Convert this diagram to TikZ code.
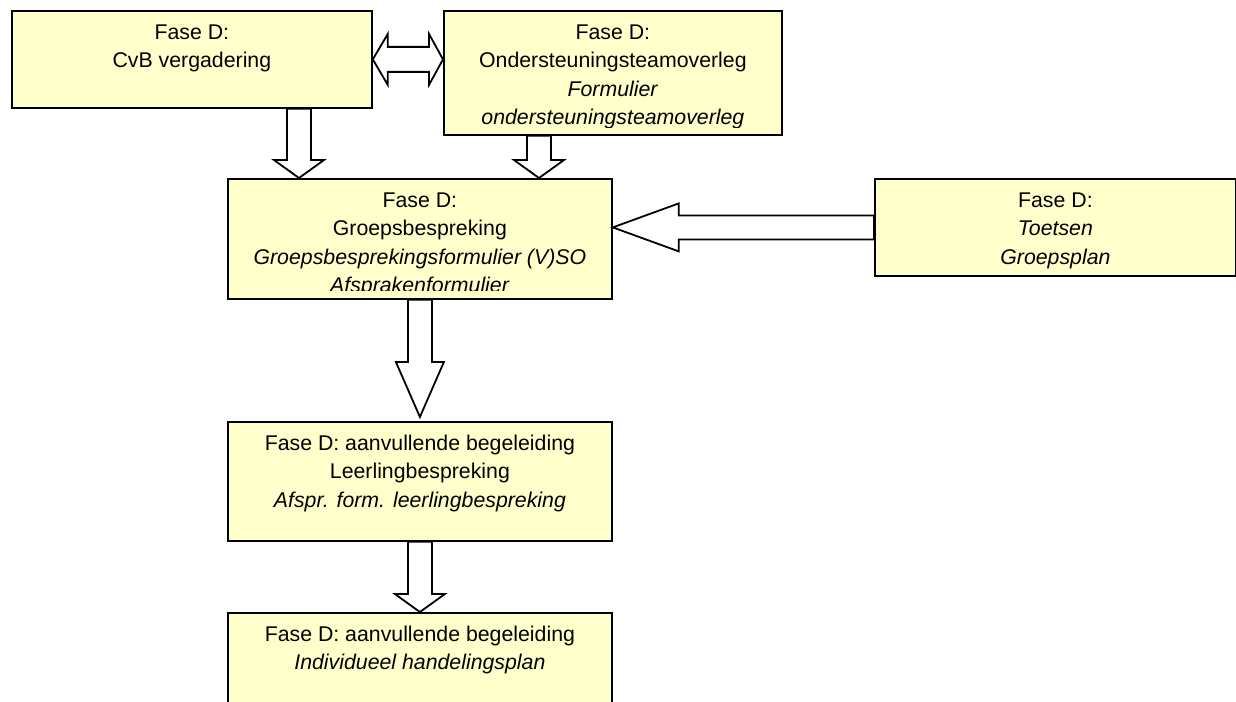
\documentclass[tikz,border=0pt]{standalone}
\usepackage{fontspec}
\setmainfont{Liberation Sans}
\usetikzlibrary{calc}
\definecolor{boxfill}{HTML}{FFFFCC}
\tikzset{
  box/.style={draw=black, fill=boxfill, line width=1.8bp, rectangle, inner sep=0pt, anchor=north west},
  txt/.style={anchor=north, inner sep=0pt, align=center, font=\fontsize{21.3bp}{28.5bp}\selectfont},
  barrow/.style={draw=black, fill=white, line width=1.8bp, line join=miter},
}
% #1 shaft start (centre), #2 tip, #3 shaft half width, #4 head half width, #5 head length
\newcommand{\downblock}[5]{%
  \draw[barrow] ($(#1)+(-#3,0)$) -- ($(#2)+(-#3,-#5)$) -- ($(#2)+(-#4,-#5)$) -- (#2)
    -- ($(#2)+(#4,-#5)$) -- ($(#2)+(#3,-#5)$) -- ($(#1)+(#3,0)$) -- cycle;}
\newcommand{\leftblock}[5]{%
  \draw[barrow] ($(#1)+(0,-#3)$) -- ($(#2)+(#5,-#3)$) -- ($(#2)+(#5,-#4)$) -- (#2)
    -- ($(#2)+(#5,#4)$) -- ($(#2)+(#5,#3)$) -- ($(#1)+(0,#3)$) -- cycle;}
\begin{document}
\begin{tikzpicture}[x=1bp,y=-1bp]
\useasboundingbox (0,0) rectangle (1236,702);
\clip (0,0) rectangle (1236,702);

% boxes
\node[box, minimum width=360bp, minimum height=97bp]  (cvb)   at (11,10)   {};
\node[box, minimum width=338bp, minimum height=124bp] (ost)   at (443,10)  {};
\node[box, minimum width=384bp, minimum height=120bp] (gb)    at (227,178) {};
\node[box, minimum width=361bp, minimum height=97bp]  (toets) at (874,178) {};
\node[box, minimum width=384bp, minimum height=119bp] (lb)    at (227,421) {};
\node[box, minimum width=384bp, minimum height=120bp] (ihp)   at (227,612) {};

% texts
\node[txt] (cvbt) at ($(cvb.north)+(0,9)$) {\strut Fase D:\\ \strut CvB vergadering};
\begin{scope}
  \clip (ost.north west) rectangle ($(ost.south east)+(0,-8)$);
  \node[txt] (ostt) at ($(ost.north)+(0,9)$) {\strut Fase D:\\ \strut Ondersteuningsteamoverleg\\ \strut\textit{Formulier}\\ \strut\textit{ondersteuningsteamoverleg}};
\end{scope}
\begin{scope}
  \clip (gb.north west) rectangle ($(gb.south east)+(0,-9)$);
  \node[txt] (gbt) at ($(gb.north)+(0,9)$) {\strut Fase D:\\ \strut Groepsbespreking\\ \strut\textit{Groepsbesprekingsformulier (V)SO}\\ \strut\textit{Afsprakenformulier}};
\end{scope}
\node[txt] (toetst) at ($(toets.north)+(0,9)$) {\strut Fase D:\\ \strut\textit{Toetsen}\\ \strut\textit{Groepsplan}};
\node[txt] (lbt) at ($(lb.north)+(0,9)$) {\strut Fase D: aanvullende begeleiding\\ \strut Leerlingbespreking\\ \strut\textit{Afspr. form. leerlingbespreking}};
\node[txt] (ihpt) at ($(ihp.north)+(0,9)$) {\strut Fase D: aanvullende begeleiding\\ \strut\textit{Individueel handelingsplan}};

% block arrows
\coordinate (a1) at ($(gb.north west)+(72,0)$);
\coordinate (a2) at ($(gb.north west)+(312,0)$);
\downblock{cvb.south -| a1}{a1}{12}{25}{18}
\downblock{ost.south -| a2}{a2}{12}{25}{18}
\coordinate (a3) at ($(lb.north)+(0,-4)$);
\downblock{gb.south}{a3}{12}{24}{55}
\downblock{lb.south}{ihp.north}{12}{25}{18}
\coordinate (a4) at (gb.east |- toets.west);
\leftblock{toets.west}{a4}{12}{24}{66}
% double arrow
\coordinate (dl) at (cvb.east);
\coordinate (dr) at (ost.west |- cvb.east);
\draw[barrow] (dl) -- ($(dl)+(15,-25.5)$) -- ($(dl)+(15,-12.5)$) -- ($(dr)+(-14,-12.5)$)
  -- ($(dr)+(-14,-25.5)$) -- (dr) -- ($(dr)+(-14,25.5)$) -- ($(dr)+(-14,12.5)$)
  -- ($(dl)+(15,12.5)$) -- ($(dl)+(15,25.5)$) -- cycle;
\end{tikzpicture}
\end{document}
